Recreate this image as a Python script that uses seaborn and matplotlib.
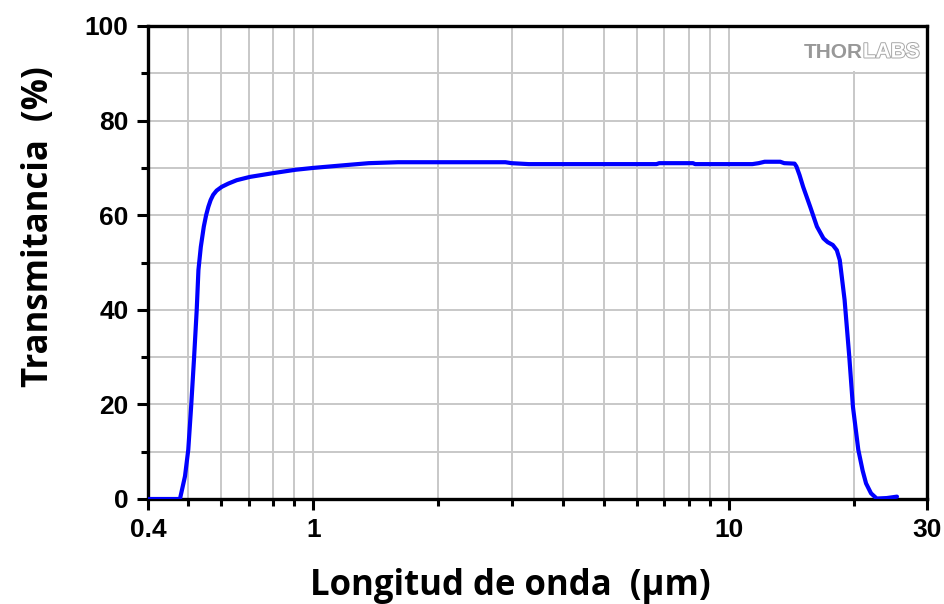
import matplotlib
matplotlib.use("Agg")
import matplotlib.pyplot as plt
import matplotlib.patheffects as pe
from matplotlib.ticker import FixedLocator, FixedFormatter, NullFormatter
from matplotlib.patches import Rectangle
import seaborn as sns
import pandas as pd

# Transmission curve (wavelength in µm, transmittance in %)
wavelength = [0.40, 0.4775, 0.491, 0.500, 0.508, 0.516, 0.524, 0.529, 0.536, 0.545,
              0.552, 0.559, 0.566, 0.574, 0.585, 0.602, 0.625, 0.654, 0.704, 0.801,
              0.905, 1.00, 1.20, 1.36, 1.60, 2.90, 3.00, 3.30, 6.70, 6.80,
              8.20, 8.30, 11.4, 11.8, 12.2, 13.3, 13.6, 14.4, 14.55, 14.8,
              15.1, 15.7, 16.3, 16.9, 17.3, 17.8, 18.2, 18.5, 19.0, 19.5,
              19.9, 20.5, 21.0, 21.4, 22.0, 22.7, 24.0, 25.4]
transmittance = [0.0, 0.0, 4.8, 10.4, 19.5, 29.4, 40.0, 48.4, 53.3, 57.6,
                 60.0, 61.8, 63.2, 64.3, 65.2, 66.0, 66.7, 67.4, 68.1, 68.9,
                 69.6, 70.0, 70.6, 71.0, 71.2, 71.2, 71.0, 70.8, 70.8, 71.0,
                 71.0, 70.8, 70.8, 71.0, 71.3, 71.3, 71.0, 70.9, 70.3, 68.5,
                 66.0, 61.8, 57.6, 55.1, 54.3, 53.7, 52.6, 50.5, 42.1, 30.1,
                 19.5, 10.4, 6.0, 3.3, 1.2, 0.1, 0.2, 0.5]

x_major = [0.4, 1, 10, 30]
x_major_labels = ["0.4", "1", "10", "30"]
x_minor = [0.5, 0.6, 0.7, 0.8, 0.9, 2, 3, 4, 5, 6, 7, 8, 9, 20]
y_major = [0, 20, 40, 60, 80, 100]
y_minor = [10, 30, 50, 70, 90]

df = pd.DataFrame({"wl": wavelength, "T": transmittance})

sns.set_theme(style="white")
plt.rcParams["font.family"] = ["Liberation Sans", "DejaVu Sans"]
plt.rcParams["text.color"] = "black"
plt.rcParams["axes.labelcolor"] = "black"
plt.rcParams["xtick.color"] = "black"
plt.rcParams["ytick.color"] = "black"

fig = plt.figure(figsize=(9.44, 6.04), dpi=100)
ax = fig.add_axes([148 / 944, 1 - 499 / 604, (927 - 148) / 944, (499 - 26) / 604])

sns.lineplot(data=df, x="wl", y="T", ax=ax, color="#0000ff", linewidth=3.0,
             estimator=None, sort=False, zorder=3)

ax.set_xscale("log")
ax.set_xlim(0.4, 30)
ax.set_ylim(0, 100)

ax.xaxis.set_major_locator(FixedLocator(x_major))
ax.xaxis.set_major_formatter(FixedFormatter(x_major_labels))
ax.xaxis.set_minor_locator(FixedLocator(x_minor))
ax.xaxis.set_minor_formatter(NullFormatter())
ax.yaxis.set_major_locator(FixedLocator(y_major))
ax.yaxis.set_minor_locator(FixedLocator(y_minor))

ax.set_axisbelow(True)
ax.grid(True, which="both", color="#c8c8c8", linewidth=1.4)

for side in ["left", "right", "top", "bottom"]:
    ax.spines[side].set_visible(True)
    ax.spines[side].set_color("black")
    ax.spines[side].set_linewidth(2.4)

ax.tick_params(which="major", direction="out", length=8, width=2.2, color="black",
               labelcolor="black", labelsize=19, pad=6, bottom=True, left=True)
ax.tick_params(which="minor", direction="out", length=5, width=2.2, color="black",
               bottom=True, left=True)
for lab in ax.get_xticklabels() + ax.get_yticklabels():
    lab.set_fontweight("bold")

ax.set_xlabel("Longitud de onda  (µm)", fontsize=25, fontweight="bold",
              color="black", fontfamily=["Open Sans", "DejaVu Sans"])
ax.set_ylabel("Transmitancia  (%)", fontsize=25, fontweight="bold",
              color="black", fontfamily=["Open Sans", "DejaVu Sans"])
ax.xaxis.set_label_coords(0.465, -0.145)
ax.yaxis.set_label_coords(-0.117, 0.575)

# Logo block in the upper-right corner
ax.add_patch(Rectangle((0.835, 0.905), 0.16, 0.09, transform=ax.transAxes,
                       facecolor="white", edgecolor="none", zorder=1))
thor = ax.text(0.842, 0.945, "THOR", transform=ax.transAxes, fontsize=15,
               fontweight="bold", color="#989898", ha="left", va="center", zorder=4)
ax.annotate("LABS", xy=(1.0, 0.5), xycoords=thor, fontsize=15,
            fontweight="bold", color="white", ha="left", va="center", zorder=4,
            path_effects=[pe.withStroke(linewidth=1.4, foreground="#a8a8a8")])

fig.savefig("out.png", dpi=100)
